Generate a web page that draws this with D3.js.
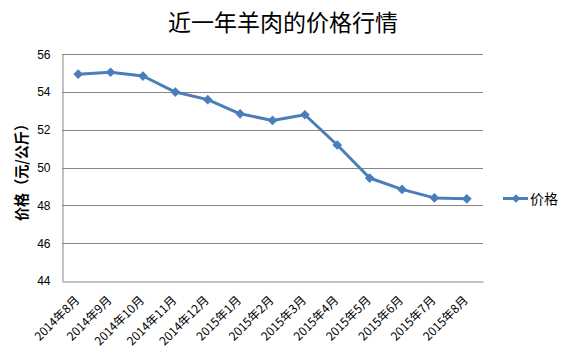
<!DOCTYPE html>
<html><head><meta charset="utf-8">
<script src="https://cdn.jsdelivr.net/npm/d3@7"></script>
<style>body{margin:0;background:#fff}svg{display:block}</style>
</head><body>
<script>
const categories = ["2014年8月","2014年9月","2014年10月","2014年11月","2014年12月","2015年1月","2015年2月","2015年3月","2015年4月","2015年5月","2015年6月","2015年7月","2015年8月"];
const prices = [54.95,55.05,54.85,54.0,53.6,52.85,52.5,52.8,51.2,49.45,48.85,48.4,48.35];
const yTicks = [44,46,48,50,52,54,56];
const seriesName = "价格";
const title = "近一年羊肉的价格行情";
const yTitle = "价格（元/公斤）";

const W=570,H=356;
const svg=d3.select("body").append("svg").attr("width",W).attr("height",H);
const L=62,R=483,T=54.3,B=281;
const x=d3.scaleBand().domain(categories).range([L,R]);
const y=d3.scaleLinear().domain([44,56]).range([B,T]);
const cjk='"Noto Sans CJK SC","Noto Sans",sans-serif';

svg.append("text").attr("x",283).attr("y",31).attr("text-anchor","middle")
  .style("font-family",cjk).style("font-size","23px").attr("fill","#000").text(title);

// gridlines
svg.append("g").selectAll("line").data(yTicks.filter(d=>d>44)).join("line")
  .attr("x1",L).attr("x2",R).attr("y1",d=>Math.round(y(d))+0.5).attr("y2",d=>Math.round(y(d))+0.5)
  .attr("stroke","#868686").attr("stroke-width",1);

// y axis
const ya=svg.append("g").attr("transform",`translate(${L+0.5},0)`)
  .call(d3.axisLeft(y).tickValues(yTicks).tickSize(0).tickPadding(12));
ya.select(".domain").attr("stroke","#868686");
ya.selectAll("text").style("font-family","'Liberation Sans',Arial,sans-serif").style("font-size","12px").attr("fill","#000");

// x axis
const xa=svg.append("g").attr("transform",`translate(0,${Math.round(B)+0.5})`)
  .call(d3.axisBottom(x).tickSize(0).tickFormat(""));
xa.select(".domain").attr("stroke","#868686");
svg.append("g").selectAll("text").data(categories).join("text")
  .attr("transform",d=>`translate(${x(d)+x.bandwidth()/2+2},301) rotate(-45)`)
  .attr("text-anchor","end")
  .style("font-family",cjk).style("font-size","12px").attr("fill","#000").text(d=>d);

// y title
svg.append("text").attr("transform","translate(27,169) rotate(-90)").attr("text-anchor","middle")
  .attr("textLength",104).attr("lengthAdjust","spacingAndGlyphs")
  .style("font-family",cjk).style("font-size","15px").style("font-weight","bold").attr("fill","#000").text(yTitle);

// line
const cx=d=>x(d)+x.bandwidth()/2;
const line=d3.line().x((d,i)=>cx(categories[i])).y(d=>y(d));
svg.append("path").datum(prices).attr("d",line).attr("fill","none")
  .attr("stroke","#4a7ebb").attr("stroke-width",3).attr("stroke-linejoin","round");
const diamond=d3.symbol().type(d3.symbolDiamond2).size(60);
svg.append("g").selectAll("path").data(prices).join("path")
  .attr("transform",(d,i)=>`translate(${cx(categories[i])},${y(d)})`)
  .attr("d",diamond).attr("fill","#4a7ebb");

// legend
const lg=svg.append("g");
lg.append("line").attr("x1",503).attr("x2",528).attr("y1",198.5).attr("y2",198.5).attr("stroke","#4a7ebb").attr("stroke-width",3);
lg.append("path").attr("transform","translate(516,198.5)").attr("d",d3.symbol().type(d3.symbolDiamond2).size(45)).attr("fill","#4a7ebb");
lg.append("text").attr("x",530).attr("y",204).style("font-family",cjk).style("font-size","14px").attr("fill","#000").text(seriesName);
</script>
</body></html>
